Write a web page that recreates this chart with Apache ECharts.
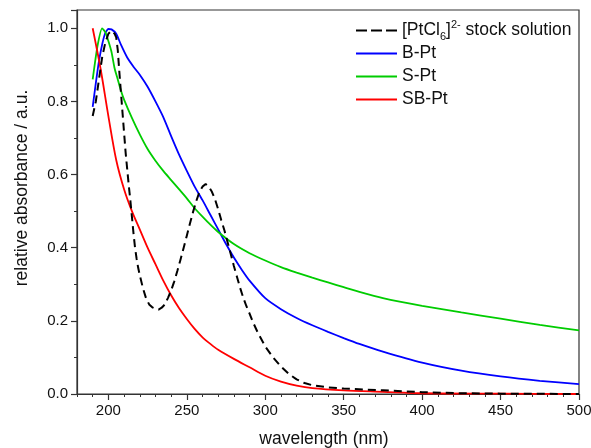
<!DOCTYPE html>
<html>
<head>
<meta charset="utf-8">
<script src="https://cdn.jsdelivr.net/npm/echarts@6/dist/echarts.min.js"></script>
<style>html,body{margin:0;padding:0;background:#fff;}#c{width:591px;height:448px;}</style>
</head>
<body>
<div id="c"></div>
<script>
// ---- data ----
var seriesNames = ['[PtCl6]2- stock solution', 'B-Pt', 'S-Pt', 'SB-Pt'];
var xMajorTicks = [200, 250, 300, 350, 400, 450, 500];
var yTicks = [0.0, 0.2, 0.4, 0.6, 0.8, 1.0];

var ptWl  = [190,192,194,196,198,200,202,204,205,206,207,208,209,210,211,212,213,214,215,216,217,218,219,220,222,224,226,228,230,232,234,236,238,240,242,244,246,248,250,252,254,256,258,260,262,264,266,268,270,272,274,276,278,280,282,284,286,288,290,292,295,300,305,310,315,320,325,330,340,350,375,400,425,450,475,500];
var ptAbs = [0.76,0.80,0.86,0.92,0.96,0.985,0.993,0.985,0.975,0.94,0.88,0.825,0.77,0.715,0.66,0.615,0.57,0.53,0.485,0.44,0.40,0.37,0.345,0.325,0.29,0.262,0.245,0.237,0.233,0.231,0.236,0.245,0.263,0.283,0.308,0.337,0.368,0.40,0.433,0.466,0.498,0.527,0.552,0.567,0.574,0.567,0.553,0.532,0.505,0.475,0.447,0.415,0.383,0.35,0.32,0.29,0.263,0.24,0.22,0.198,0.17,0.13,0.10,0.075,0.055,0.04,0.03,0.024,0.018,0.015,0.01,0.005,0.002,0.001,0.0005,0.0];

var bWl  = [190,192,194,196,198,200,202,205,208,212,216,220,225,230,235,240,245,250,255,260,265,270,275,280,285,290,300,310,320,330,340,350,360,375,400,425,450,475,500];
var bAbs = [0.785,0.85,0.91,0.955,0.987,0.998,0.997,0.985,0.955,0.92,0.895,0.873,0.84,0.80,0.757,0.705,0.655,0.61,0.567,0.53,0.49,0.45,0.41,0.373,0.34,0.31,0.262,0.232,0.208,0.188,0.17,0.153,0.137,0.116,0.086,0.064,0.048,0.036,0.027];

var sWl  = [190,193,196,198,200,202,204,206,208,210,215,220,225,230,235,240,245,250,255,260,265,270,280,290,300,310,320,330,340,350,360,375,400,425,450,475,500];
var sAbs = [0.86,0.95,1.0,0.99,0.965,0.935,0.89,0.86,0.83,0.805,0.755,0.71,0.67,0.638,0.61,0.585,0.56,0.535,0.508,0.485,0.463,0.443,0.41,0.385,0.365,0.347,0.332,0.318,0.305,0.292,0.279,0.262,0.241,0.223,0.206,0.189,0.174];

var sbWl  = [190,195,200,205,210,215,220,225,230,235,240,245,250,255,260,265,270,280,290,300,310,320,330,350,375,400,450,500];
var sbAbs = [1.0,0.89,0.76,0.64,0.56,0.50,0.45,0.40,0.355,0.31,0.27,0.235,0.205,0.178,0.155,0.137,0.121,0.096,0.073,0.05,0.034,0.023,0.016,0.01,0.006,0.002,0.001,0.0];

function pairs(xs, ys){ return xs.map(function(x,i){ return [x, ys[i]]; }); }

var FONT = 'Liberation Sans, Arial, sans-serif';
var chart = echarts.init(document.getElementById('c'), null, {renderer:'canvas'});

var solidIcon = 'path://M0,0h41v2h-41z';
var dashIcon = 'path://M0,0h11v2h-11z M15,0h11v2h-11z M30,0h11v2h-11z';

chart.setOption({
  animation: false,
  backgroundColor: '#fff',
  textStyle: {fontFamily: FONT},
  grid: {left: 77, right: 12, top: 10, bottom: 54, show: true, borderColor: '#333', borderWidth: 1.2,
         outerBoundsMode: 'none', containLabel: false},
  legend: {
    orient: 'vertical', left: 351, top: 14, itemWidth: 41, itemHeight: 2, itemGap: 0,
    data: [
      {name: seriesNames[0], icon: dashIcon},
      {name: seriesNames[1], icon: solidIcon},
      {name: seriesNames[2], icon: solidIcon},
      {name: seriesNames[3], icon: solidIcon}
    ],
    textStyle: {
      fontFamily: FONT, fontSize: 17.5, color: '#111', lineHeight: 23,
      rich: {
        n: {fontSize: 17.5, lineHeight: 23, fontFamily: FONT, color: '#111'},
        sub: {fontSize: 11, lineHeight: 11, verticalAlign: 'bottom', fontFamily: FONT, color: '#111'},
        sup: {fontSize: 11, lineHeight: 11, verticalAlign: 'top', fontFamily: FONT, color: '#111'}
      }
    },
    formatter: function(name){
      if (name === seriesNames[0]) return '{n|[PtCl}{sub|6}{n|]}{sup|2-}{n| stock solution}';
      return '{n|' + name + '}';
    }
  },
  xAxis: [{
    type: 'value', min: 180, max: 500, interval: 10,
    name: 'wavelength (nm)', nameLocation: 'middle', nameGap: 36,
    nameTextStyle: {fontSize: 17.5, color: '#111', fontFamily: FONT, padding: [0, 8, 0, 0]},
    axisLine: {show: true, lineStyle: {color: '#333', width: 1.2}},
    axisTick: {show: true, inside: false, length: 6, customValues: xMajorTicks, lineStyle: {color: '#333', width: 1.2}},
    axisLabel: {show: true, customValues: xMajorTicks, margin: 9, fontSize: 15, color: '#111', fontFamily: FONT},
    splitLine: {show: false}
  }, {
    type: 'value', min: 180, max: 500, interval: 10, position: 'bottom',
    axisLine: {show: false},
    axisTick: {show: true, inside: false, length: 3, lineStyle: {color: '#333', width: 1}},
    axisLabel: {show: false},
    splitLine: {show: false}
  }],
  yAxis: {
    type: 'value', min: 0, max: 1.05, interval: 0.2,
    name: 'relative absorbance / a.u.', nameLocation: 'middle', nameGap: 46,
    nameTextStyle: {fontSize: 17.5, color: '#111', fontFamily: FONT, padding: [0, 0, 0, 28]},
    axisLine: {show: true, lineStyle: {color: '#333', width: 1.2}},
    axisTick: {show: true, inside: false, length: 6, lineStyle: {color: '#333', width: 1.2}},
    minorTick: {show: true, splitNumber: 2, length: 3, lineStyle: {color: '#333', width: 1}},
    axisLabel: {margin: 9, fontSize: 15, color: '#111', fontFamily: FONT,
      formatter: function(v){ return v.toFixed(1); },
      customValues: yTicks},
    splitLine: {show: false}
  },
  series: [
    {name: seriesNames[0], type: 'line', showSymbol: false, symbol: 'none', data: pairs(ptWl, ptAbs),
     lineStyle: {color: '#000', width: 2, type: [8, 5]}, itemStyle: {color: '#000'}, z: 5},
    {name: seriesNames[1], type: 'line', showSymbol: false, symbol: 'none', data: pairs(bWl, bAbs), smooth: 0.2,
     lineStyle: {color: '#0000ff', width: 1.8}, itemStyle: {color: '#0000ff'}},
    {name: seriesNames[2], type: 'line', showSymbol: false, symbol: 'none', data: pairs(sWl, sAbs), smooth: 0.2,
     lineStyle: {color: '#00cc00', width: 1.8}, itemStyle: {color: '#00cc00'}},
    {name: seriesNames[3], type: 'line', showSymbol: false, symbol: 'none', data: pairs(sbWl, sbAbs), smooth: 0.3,
     lineStyle: {color: '#ff0000', width: 1.8}, itemStyle: {color: '#ff0000'}}
  ]
});
</script>
</body>
</html>
